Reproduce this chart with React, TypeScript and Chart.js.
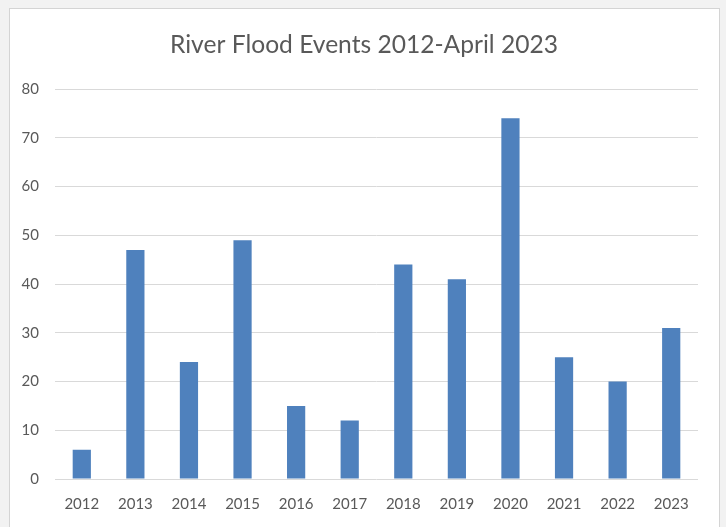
import React, { useEffect, useRef } from "react";
import { Chart, registerables } from "chart.js";

Chart.register(...registerables);

const years = ["2012", "2013", "2014", "2015", "2016", "2017", "2018", "2019", "2020", "2021", "2022", "2023"];
const floodEvents = [6, 47, 24, 49, 15, 12, 44, 41, 74, 25, 20, 31];
const chartTitle = "River Flood Events 2012-April 2023";
const yMax = 80;
const yStep = 10;

const FONT = "Lato, 'Noto Sans', sans-serif";
const TEXT = "#595959";

const centerTitle = {
  id: "centerTitle",
  afterLayout(chart: any) {
    const tb = chart.titleBlock;
    if (tb) {
      tb.left = 9;
      tb.right = 719;
      tb.width = 710;
    }
  },
};

export default function App() {
  const ref = useRef<HTMLCanvasElement | null>(null);

  useEffect(() => {
    if (!ref.current) return;
    const chart = new Chart(ref.current, {
      type: "bar",
      data: {
        labels: years,
        datasets: [
          {
            label: "Flood events",
            data: floodEvents,
            backgroundColor: "#4F81BD",
            borderWidth: 0,
            categoryPercentage: 1,
            barPercentage: 0.34,
          },
        ],
      },
      options: {
        animation: false,
        responsive: false,
        maintainAspectRatio: false,
        devicePixelRatio: 1,
        layout: { padding: { left: 0, right: 28, top: 0, bottom: 0 } },
        plugins: {
          legend: { display: false },
          tooltip: { enabled: false },
          title: {
            display: true,
            text: chartTitle,
            color: TEXT,
            font: { family: FONT, size: 24.6, weight: "normal" },
            padding: { top: 30, bottom: 29.5 },
          },
        },
        scales: {
          x: {
            grid: { display: false, drawTicks: false },
            border: { display: false },
            ticks: { color: TEXT, font: { family: FONT, size: 15 }, padding: 16, maxRotation: 0 },
            afterFit: (s: any) => {
              s.height = 48;
            },
          },
          y: {
            min: 0,
            max: yMax,
            ticks: { stepSize: yStep, color: TEXT, font: { family: FONT, size: 15 }, padding: 16 },
            grid: { color: "#d9d9d9", lineWidth: 1, drawTicks: false },
            border: { display: false },
            afterFit: (s: any) => {
              s.width = 55;
            },
          },
        },
      },
      plugins: [centerTitle],
    });
    return () => chart.destroy();
  }, []);

  return (
    <div style={{ position: "fixed", left: 0, top: 0, width: 726, height: 527, background: "#f2f2f2", overflow: "hidden" }}>
      <div
        style={{
          position: "absolute",
          left: 9,
          top: 8,
          width: 709,
          height: 560,
          background: "#ffffff",
          border: "1px solid #d4d4d4",
        }}
      />
      <canvas ref={ref} width={726} height={527} style={{ position: "absolute", left: 0, top: 0, width: 726, height: 527 }} />
    </div>
  );
}
